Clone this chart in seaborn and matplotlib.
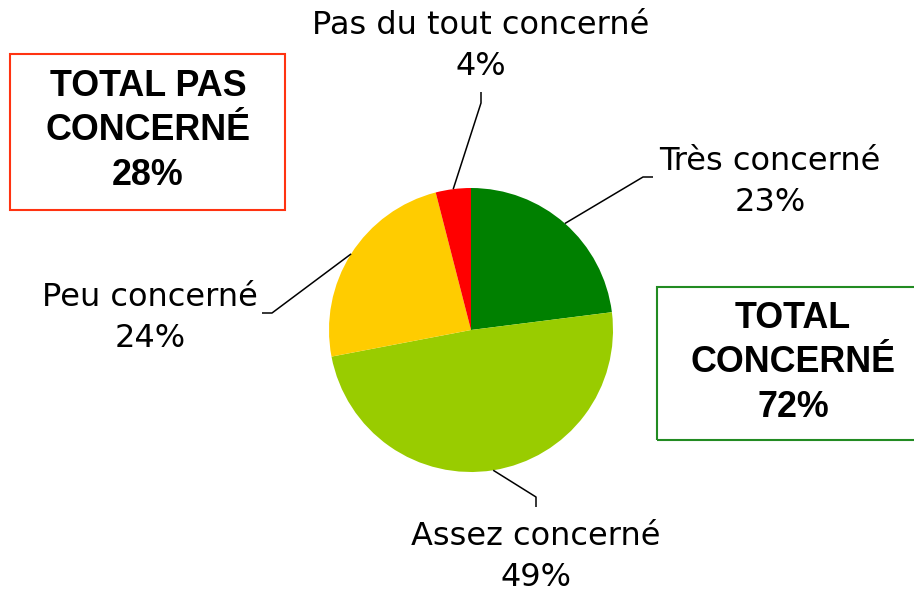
import numpy as np
import seaborn as sns
import matplotlib.pyplot as plt
from matplotlib.patches import Rectangle

# data (clockwise from 12 o'clock)
categories = ["Très concerné", "Assez concerné", "Peu concerné", "Pas du tout concerné"]
values = [23, 49, 24, 4]

total_concerne = values[0] + values[1]
total_pas = values[2] + values[3]

slice_colors = ["#008000", "#99CC00", "#FFCC00", "#FF0000"]

sns.set_theme(style="white")
plt.rcParams["font.family"] = ["DejaVu Sans"]

W, H = 914, 593
fig = plt.figure(figsize=(W / 100, H / 100), dpi=100)
ax = fig.add_axes([0, 0, 1, 1])

cx, cy, r = 471, H - 330, 142
wedges, _ = ax.pie(values, colors=slice_colors, startangle=90, counterclock=False,
                   center=(cx, cy), radius=r, wedgeprops=dict(linewidth=0))
ax.set_xlim(0, W)
ax.set_ylim(0, H)
ax.set_aspect("equal")
ax.axis("off")

# label layout: (elbow point, end point, text centre) in pixels from top-left
layout = {
    "Très concerné": ((643, 177), (653, 177), (770, 182)),
    "Assez concerné": ((536, 497), (536, 507), (536, 557)),
    "Peu concerné": ((272, 313), (262, 313), (150, 318)),
    "Pas du tout concerné": ((481, 103), (481, 92), (481, 46)),
}

for w, cat, v in zip(wedges, categories, values):
    mid = np.deg2rad((w.theta1 + w.theta2) / 2)
    x0, y0 = cx + r * np.cos(mid), cy + r * np.sin(mid)
    (ex, ey), (fx, fy), (tx, ty) = layout[cat]
    ax.plot([x0, ex, fx], [y0, H - ey, H - fy], color="black", lw=1.1,
            solid_capstyle="butt")
    ax.text(tx, H - ty, f"{cat}\n{v}%", ha="center", va="center",
            fontsize=23, color="black", linespacing=1.41)

# total boxes
box_font = dict(ha="center", va="center", fontsize=25.8, fontweight="bold", color="black",
                family=["Liberation Sans", "DejaVu Sans"], linespacing=1.34)

ax.add_patch(Rectangle((10, H - 210), 275, 156, fill=False, edgecolor="#FF3311",
                       lw=1.5, clip_on=False))
ax.text(148, H - 131, f"TOTAL PAS\nCONCERNÉ\n{total_pas}%", **box_font)

ax.add_patch(Rectangle((657, H - 440), 270, 153, fill=False, edgecolor="#228B22",
                       lw=1.5, clip_on=False))
ax.text(793, H - 363, f"TOTAL\nCONCERNÉ\n{total_concerne}%", **box_font)

fig.savefig("out.png", dpi=100)
